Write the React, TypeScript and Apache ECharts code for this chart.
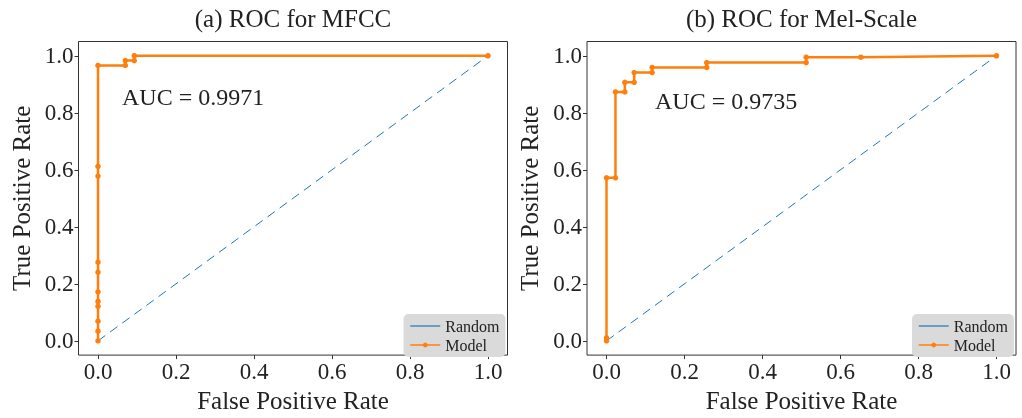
import React, { useEffect, useRef } from "react";
import * as echarts from "echarts";

const tickValues = [0, 0.2, 0.4, 0.6, 0.8, 1.0];
const titles = ["(a) ROC for MFCC", "(b) ROC for Mel-Scale"];
const aucLabels = ["AUC = 0.9971", "AUC = 0.9735"];
const randomFpr = [0, 1];
const randomTpr = [0, 1];
const mfccFpr = [0, 0, 0, 0, 0, 0, 0, 0, 0, 0, 0, 0.07, 0.07, 0.093, 0.093, 1.0];
const mfccTpr = [0, 0.034, 0.069, 0.121, 0.138, 0.172, 0.241, 0.276, 0.578, 0.612, 0.966, 0.966, 0.983, 0.983, 1.0, 1.0];
const melFpr = [0, 0, 0, 0.023, 0.023, 0.047, 0.047, 0.071, 0.071, 0.117, 0.117, 0.257, 0.257, 0.512, 0.512, 0.652, 1.0];
const melTpr = [0, 0.01, 0.572, 0.572, 0.873, 0.873, 0.907, 0.907, 0.941, 0.941, 0.959, 0.959, 0.976, 0.976, 0.995, 0.995, 1.0];

const FONT = '"Liberation Serif", "DejaVu Serif", serif';
const BLUE = "#1f77b4";
const ORANGE = "#ff7f0e";
const TXT = "#222";

const zip = (a: number[], b: number[]) => a.map((v, i) => [v, b[i]]);

export default function App() {
  const ref = useRef<HTMLDivElement>(null);
  useEffect(() => {
    if (!ref.current) return;
    const chart = echarts.init(ref.current, null, { renderer: "svg" });
    const gridLefts = [78.5, 587];
    const gridW = 429;
    const gridTop = 41.5;
    const gridH = 319;
    const axisCommon = (i: number) => ({
      gridIndex: i,
      type: "value",
      min: -0.05,
      max: 1.05,
      axisLine: { show: false, onZero: false },
      splitLine: { show: false },
      axisTick: {
        show: true,
        length: 4,
        customValues: tickValues,
        lineStyle: { color: "#333", width: 1 },
      },
      axisLabel: {
        customValues: tickValues,
        formatter: (v: number) => v.toFixed(1),
        fontFamily: FONT,
        fontSize: 23,
        color: TXT,
        margin: 5,
      },
      nameTextStyle: { fontFamily: FONT, fontSize: 25, color: TXT },
    });
    const option: any = {
      animation: false,
      grid: gridLefts.map((l) => ({
        left: l,
        top: gridTop,
        width: gridW,
        height: gridH,
        show: true,
        borderColor: "#333",
        borderWidth: 1,
        backgroundColor: "transparent",
      })),
      xAxis: [0, 1].map((i) => ({
        ...axisCommon(i),
        name: "False Positive Rate",
        nameLocation: "middle",
        nameGap: 29,
      })),
      yAxis: [0, 1].map((i) => ({
        ...axisCommon(i),
        name: "True Positive Rate",
        nameLocation: "middle",
        nameGap: 45,
      })),
      legend: gridLefts.map((l) => ({
        orient: "vertical",
        left: l + 325,
        top: 314,
        backgroundColor: "#dadada",
        borderRadius: 5,
        padding: [4, 6, 4, 6],
        itemGap: 3,
        itemWidth: 30,
        itemHeight: 6,
        selectedMode: false,
        textStyle: { fontFamily: FONT, fontSize: 16, color: TXT },
        data: [
          { name: "Random", itemStyle: { opacity: 0 }, lineStyle: { type: "solid", width: 1.2 } },
          { name: "Model", lineStyle: { width: 1.5 } },
        ],
      })),
      graphic: [
        ...titles.map((t, i) => ({
          type: "text",
          x: gridLefts[i] + gridW / 2,
          y: 18,
          style: {
            text: t,
            fontFamily: FONT,
            fontSize: 25,
            fill: TXT,
            textAlign: "center",
            textVerticalAlign: "middle",
          },
        })),
        {
          type: "text",
          x: 122,
          y: 97,
          style: { text: aucLabels[0], fontFamily: FONT, fontSize: 24, fill: TXT, textVerticalAlign: "middle" },
        },
        {
          type: "text",
          x: 655,
          y: 101,
          style: { text: aucLabels[1], fontFamily: FONT, fontSize: 24, fill: TXT, textVerticalAlign: "middle" },
        },
      ],
      series: [
        ...[0, 1].map((i) => ({
          name: "Random",
          type: "line",
          xAxisIndex: i,
          yAxisIndex: i,
          data: zip(randomFpr, randomTpr),
          symbol: "none",
          lineStyle: { color: BLUE, width: 1, type: [9, 6] },
          itemStyle: { color: BLUE },
          z: 2,
        })),
        ...[
          [mfccFpr, mfccTpr],
          [melFpr, melTpr],
        ].map(([f, t], i) => ({
          name: "Model",
          type: "line",
          xAxisIndex: i,
          yAxisIndex: i,
          data: zip(f, t),
          symbol: "circle",
          symbolSize: 5.5,
          showSymbol: true,
          lineStyle: { color: ORANGE, width: 2.5 },
          itemStyle: { color: ORANGE },
          z: 3,
        })),
      ],
    };
    chart.setOption(option);
    return () => chart.dispose();
  }, []);
  return (
    <div
      ref={ref}
      style={{ position: "fixed", left: 0, top: 0, width: 1022, height: 418 }}
    />
  );
}
